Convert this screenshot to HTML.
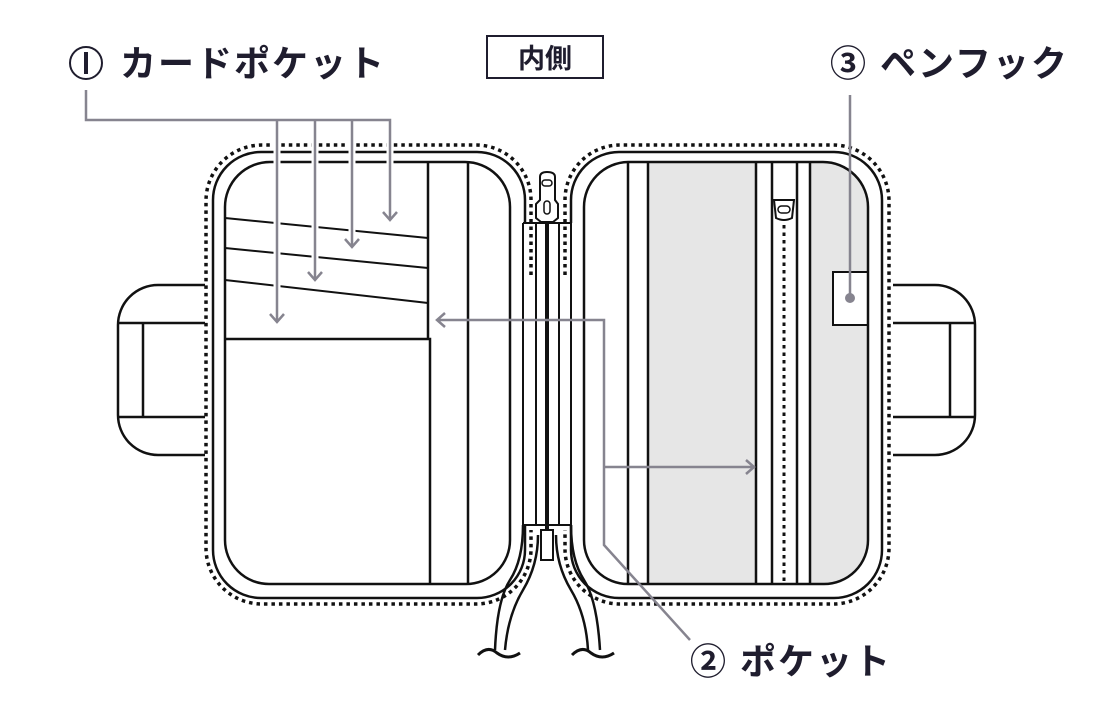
<!DOCTYPE html>
<html><head><meta charset="utf-8"><style>
html,body{margin:0;padding:0;background:#fff;}
svg{display:block;}
text{font-family:"Liberation Sans","Noto Sans CJK JP",sans-serif;font-weight:bold;fill:#1f1d2e;}
</style></head><body>
<svg width="1100" height="720" viewBox="0 0 1100 720" xmlns="http://www.w3.org/2000/svg">
<g fill="none" stroke="#111" stroke-width="2.5">
<path d="M205 285 H158 A40 40 0 0 0 118 325 V415 A40 40 0 0 0 158 455 H205"/>
<path d="M118 323 H205 M118 417 H205 M143 323 V417"/>
<path d="M893 285 H935 A40 40 0 0 1 975 325 V415 A40 40 0 0 1 935 455 H893"/>
<path d="M893 323 H975 M893 417 H975 M950 323 V417"/>
</g>
<path d="M648 162 H756 V584 H648 Z" fill="#e6e6e6"/>
<path d="M810 162 H823 A45 45 0 0 1 868 207 V540 A44 44 0 0 1 824 584 H810 Z" fill="#e6e6e6"/>
<rect x="833" y="272" width="35" height="53" fill="#fff" stroke="#111" stroke-width="2"/>
<g fill="none" stroke="#111" stroke-width="2.5">
<path d="M525 223 V200 A48 48 0 0 0 477 152 H261 A48 48 0 0 0 213 200 V550 A48 48 0 0 0 261 598 H477 A48 48 0 0 0 525 550 V525"/>
<path d="M465 162 A45 45 0 0 1 510 207 V540 A44 44 0 0 1 466 584 H269 A44 44 0 0 1 225 540 V207 A45 45 0 0 1 270 162 Z"/>
<path d="M428 162 V339 M225 339 H430 V584 M468 162 V584"/>
<path d="M225 218 L428 238 M225 248 L428 268 M225 280 L428 303" stroke-width="2"/>
<path d="M571 223 V200 A48 48 0 0 1 619 152 H834 A48 48 0 0 1 882 200 V550 A48 48 0 0 1 834 598 H619 A48 48 0 0 1 571 550 V525"/>
<path d="M628 162 H823 A45 45 0 0 1 868 207 V540 A44 44 0 0 1 824 584 H628 A44 44 0 0 1 584 540 V207 A45 45 0 0 1 628 162 Z"/>
<path d="M628 162 V584 M648 162 V584 M756 162 V584 M772 162 V584 M797 162 V584 M810 162 V584"/>
<path d="M523 223 H571 M523 223 V525 M571 223 V525 M536 223 V525 M559 223 V525 M523 525 H571" stroke-width="2"/>
<path d="M523 525 Q523 560 510 580 Q497 600 495 650"/>
<path d="M538 535 Q538 565 523 590 Q508 615 505 650"/>
<path d="M571 525 Q571 560 584 580 Q597 600 600 650"/>
<path d="M556 535 Q556 565 571 590 Q586 615 588 650"/>
<path d="M478 655 Q488 645 497 653 Q508 661 520 653" stroke-width="3"/>
<path d="M572 655 Q582 645 591 653 Q602 661 614 653" stroke-width="3"/>
</g>
<line x1="547" y1="223" x2="547" y2="560" stroke="#111" stroke-width="4"/>
<rect x="541" y="530" width="12" height="30" fill="#fff" stroke="#111" stroke-width="2"/>
<path d="M540 177 Q540 172 547 172 Q555 172 555 177 V200 L558 204 V218 L553 222 H541 L536 218 V204 L540 200 Z" fill="#fff" stroke="#111" stroke-width="2"/>
<rect x="542" y="180" width="10" height="6" rx="3" fill="none" stroke="#111" stroke-width="1.5"/>
<rect x="544" y="201" width="6" height="13" rx="3" fill="none" stroke="#111" stroke-width="1.5"/>
<path d="M774 200 H794 L792 218 Q784 222 776 218 Z" fill="#fff" stroke="#111" stroke-width="2"/>
<rect x="778" y="206" width="12" height="7" rx="3.5" fill="none" stroke="#111" stroke-width="1.5"/>
<g fill="none" stroke="#111" stroke-width="3.5" stroke-dasharray="3.5 4">
<path d="M531 275 V200 A55 55 0 0 0 476 145 H262 A56 56 0 0 0 206 201 V548 A56 56 0 0 0 262 604 H476 A55 55 0 0 0 531 549 V530"/>
<path d="M565 275 V200 A55 55 0 0 1 620 145 H833 A56 56 0 0 1 889 201 V548 A56 56 0 0 1 833 604 H620 A55 55 0 0 1 565 549 V530"/>
<path d="M784 225 V584" stroke-width="3"/>
</g>
<g fill="none" stroke="#fff" stroke-width="7">
<path d="M277 120 V322 M315 120 V280 M352 120 V247 M390 120 V220"/>
</g>
<g fill="none" stroke="#86848f" stroke-width="2.5">
<path d="M86 90 V120 H390 V220 M277 120 V322 M315 120 V280 M352 120 V247"/>
<path d="M270 314 L277 322 L284 314 M308 272 L315 280 L322 272 M345 239 L352 247 L359 239 M383 212 L390 220 L397 212"/>
<path d="M690 640 L604 545 V320 H437 M445 313 L437 320 L445 327"/>
<path d="M604 467 H754 M746 460 L754 467 L746 474"/>
<path d="M850 95 V298"/>
</g>
<circle cx="850" cy="298" r="5" fill="#86848f"/>
<circle cx="86" cy="63" r="16" fill="none" stroke="#1f1d2e" stroke-width="2"/>
<rect x="84" y="52" width="4" height="22" fill="#1f1d2e"/>
<text x="120" y="76" font-size="36" letter-spacing="2">カードポケット</text>
<rect x="487" y="36" width="116" height="42" fill="#fff" stroke="#1f1d2e" stroke-width="2"/>
<text x="545" y="68" font-size="27" text-anchor="middle">内側</text>
<text x="830" y="76" font-size="36" letter-spacing="2">③ ペンフック</text>
<text x="690" y="674" font-size="36" letter-spacing="2">② ポケット</text>
</svg>
</body></html>
